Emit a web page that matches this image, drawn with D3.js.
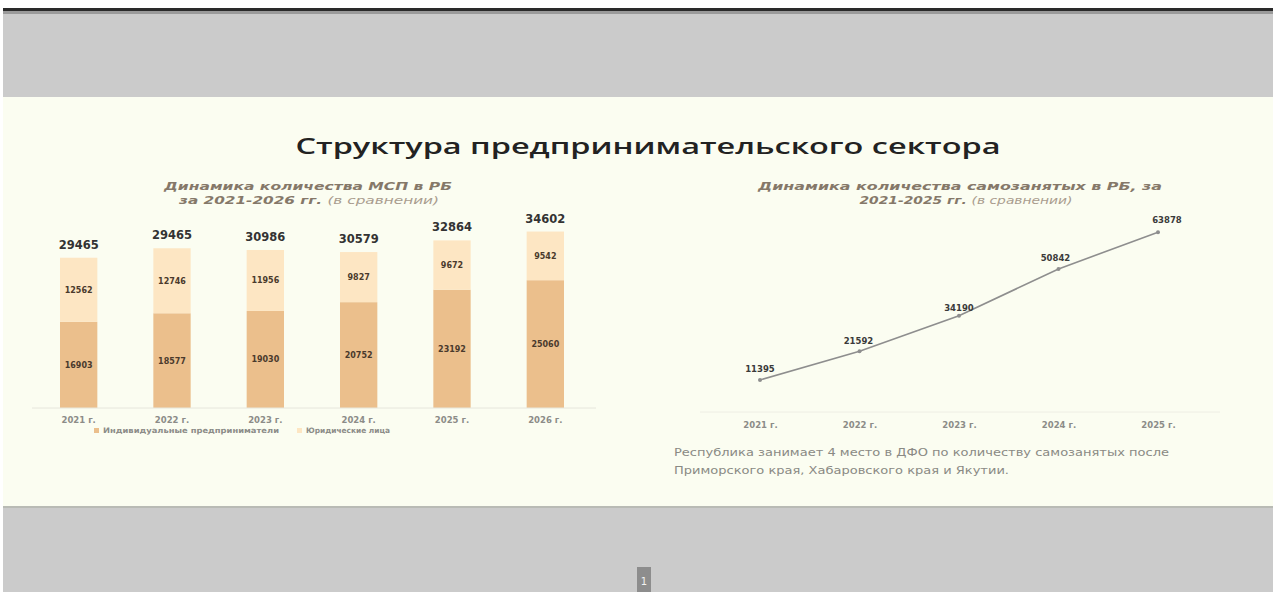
<!DOCTYPE html>
<html>
<head>
<meta charset="utf-8">
<script src="https://cdn.jsdelivr.net/npm/d3@7"></script>
<style>
  body { margin: 0; background: #cbcbcb; }
  svg { display: block; }
</style>
</head>
<body>
<div id="chart"></div>
<script>
// data
var barYears = ['2021 г.', '2022 г.', '2023 г.', '2024 г.', '2025 г.', '2026 г.'];
var ipValues = [16903, 18577, 19030, 20752, 23192, 25060];   // Индивидуальные предприниматели
var ulValues = [12562, 12746, 11956, 9827, 9672, 9542];      // Юридические лица
var totalLabels = [29465, 29465, 30986, 30579, 32864, 34602];

var lineYears = ['2021 г.', '2022 г.', '2023 г.', '2024 г.', '2025 г.'];
var selfEmployed = [11395, 21592, 34190, 50842, 63878];

var W = 1273, H = 592;
var IP_COLOR = '#ebbf8c', UL_COLOR = '#fde6c3';

var svg = d3.select('#chart').append('svg')
    .attr('width', W).attr('height', H);

// slide frame
svg.append('rect').attr('x', 0).attr('y', 0).attr('width', W).attr('height', H).attr('fill', '#cbcbcb');
svg.append('rect').attr('x', 0).attr('y', 0).attr('width', W).attr('height', 9).attr('fill', '#ffffff');
svg.append('rect').attr('x', 0).attr('y', 0).attr('width', 3).attr('height', H).attr('fill', '#ffffff');
svg.append('rect').attr('x', 3).attr('y', 8).attr('width', W).attr('height', 3).attr('fill', '#2a2a2a');
svg.append('rect').attr('x', 3).attr('y', 11).attr('width', W).attr('height', 3).attr('fill', '#9a9a9a');
svg.append('rect').attr('x', 3).attr('y', 97).attr('width', W).attr('height', 410).attr('fill', '#fbfdf1');
svg.append('rect').attr('x', 3).attr('y', 506).attr('width', W).attr('height', 2).attr('fill', '#b9bbb5');
svg.append('rect').attr('x', 637).attr('y', 567).attr('width', 14).attr('height', 25).attr('fill', '#8d8d8d');
svg.append('text').attr('x', 644).attr('y', 585).attr('text-anchor', 'middle')
    .attr('font-family', 'DejaVu Sans').attr('font-size', 10).attr('fill', '#f2f2f2').text('1');

// title (stretched to the wide geometric face of the slide)
svg.append('text')
    .attr('x', 648).attr('y', 154)
    .attr('text-anchor', 'middle')
    .attr('font-family', 'Open Sans, DejaVu Sans')
    .attr('font-weight', 600)
    .attr('font-size', 22)
    .attr('textLength', 705).attr('lengthAdjust', 'spacingAndGlyphs')
    .attr('fill', '#222')
    .text('Структура предпринимательского сектора');

function subtitle(x, y, len, bold, light) {
  var t = svg.append('text').attr('x', x).attr('y', y).attr('text-anchor', 'middle')
      .attr('font-family', 'DejaVu Sans').attr('font-style', 'italic').attr('font-size', 10.5)
      .attr('textLength', len).attr('lengthAdjust', 'spacingAndGlyphs')
      .attr('fill', '#857869');
  t.append('tspan').attr('font-weight', 'bold').text(bold);
  if (light) t.append('tspan').attr('fill', '#a99c8e').text(light);
}
subtitle(308, 190, 288, 'Динамика количества МСП в РБ');
subtitle(309, 204, 260, 'за 2021-2026 гг. ', '(в сравнении)');
subtitle(960, 190, 404, 'Динамика количества самозанятых в РБ, за');
subtitle(966, 204, 213, '2021-2025 гг. ', '(в сравнении)');

// ---------- stacked bars ----------
var barData = barYears.map(function(y, i) {
  return { year: y, ip: ipValues[i], ul: ulValues[i], total: totalLabels[i] };
});
var stack = d3.stack().keys(['ip', 'ul'])(barData);

var xb = d3.scaleBand().domain(barYears).range([32, 592]).paddingInner(0.6).paddingOuter(0.3);
var yb = d3.scaleLinear().domain([0, 40000]).range([408, 204]);

var colors = { ip: IP_COLOR, ul: UL_COLOR };
var layers = svg.selectAll('.layer').data(stack).enter().append('g')
    .attr('class', 'layer').attr('fill', function(d) { return colors[d.key]; });

layers.selectAll('rect').data(function(d) { return d; }).enter().append('rect')
    .attr('x', function(d) { return xb(d.data.year); })
    .attr('width', xb.bandwidth())
    .attr('y', function(d) { return yb(d[1]); })
    .attr('height', function(d) { return yb(d[0]) - yb(d[1]); });

layers.selectAll('text').data(function(d) { return d; }).enter().append('text')
    .attr('x', function(d) { return xb(d.data.year) + xb.bandwidth() / 2; })
    .attr('y', function(d) { return (yb(d[0]) + yb(d[1])) / 2 + 3; })
    .attr('text-anchor', 'middle')
    .attr('font-family', 'DejaVu Sans').attr('font-weight', 'bold').attr('font-size', 8)
    .attr('fill', '#4a3a2c')
    .text(function(d) { return d[1] - d[0]; });

svg.selectAll('.total').data(barData).enter().append('text')
    .attr('class', 'total')
    .attr('x', function(d) { return xb(d.year) + xb.bandwidth() / 2; })
    .attr('y', function(d) { return yb(d.ip + d.ul) - 9; })
    .attr('text-anchor', 'middle')
    .attr('font-family', 'DejaVu Sans').attr('font-weight', 'bold').attr('font-size', 11.5)
    .attr('fill', '#333')
    .text(function(d) { return d.total; });

var xbAxis = svg.append('g').attr('transform', 'translate(0,408)')
    .call(d3.axisBottom(xb).tickSize(0).tickPadding(9));
xbAxis.select('.domain').attr('stroke', '#e6e6dc').attr('d', 'M32,0H596');
xbAxis.selectAll('text').attr('font-family', 'DejaVu Sans').attr('font-weight', 'bold')
    .attr('font-size', 8.5).attr('fill', '#8c8c88');

// legend
var legend = [
  { label: 'Индивидуальные предприниматели', color: IP_COLOR, x: 94, len: 176 },
  { label: 'Юридические лица', color: UL_COLOR, x: 297, len: 84 }
];
var lg = svg.selectAll('.lg').data(legend).enter().append('g')
    .attr('transform', function(d) { return 'translate(' + d.x + ',433)'; });
lg.append('rect').attr('x', 0).attr('y', -5).attr('width', 5).attr('height', 5)
    .attr('fill', function(d) { return d.color; });
lg.append('text').attr('x', 9).attr('y', 0)
    .attr('font-family', 'DejaVu Sans').attr('font-weight', 'bold').attr('font-size', 7.5)
    .attr('textLength', function(d) { return d.len; }).attr('lengthAdjust', 'spacingAndGlyphs')
    .attr('fill', '#8c8c88').text(function(d) { return d.label; });

// ---------- self-employed line ----------
var xl = d3.scalePoint().domain(lineYears).range([760, 1158]);
var yl = d3.scaleLinear().domain([0, 70000]).range([412, 215]);

var xlAxis = svg.append('g').attr('transform', 'translate(0,412)')
    .call(d3.axisBottom(xl).tickSize(0).tickPadding(10));
xlAxis.select('.domain').attr('stroke', '#eeeee4').attr('d', 'M700,0H1220');
xlAxis.selectAll('text').attr('font-family', 'DejaVu Sans').attr('font-weight', 'bold')
    .attr('font-size', 8.5).attr('fill', '#8c8c88');

var lineData = lineYears.map(function(y, i) { return { year: y, v: selfEmployed[i] }; });
svg.append('path').datum(lineData)
    .attr('fill', 'none').attr('stroke', '#8e8e8e').attr('stroke-width', 1.6)
    .attr('d', d3.line().x(function(d) { return xl(d.year); }).y(function(d) { return yl(d.v); }));
svg.selectAll('.pt').data(lineData).enter().append('circle')
    .attr('cx', function(d) { return xl(d.year); }).attr('cy', function(d) { return yl(d.v); })
    .attr('r', 2).attr('fill', '#8e8e8e');

var lblOffset = [[0, -8], [-1, -7], [0, -5], [-3, -8], [9, -9]];
svg.selectAll('.pl').data(lineData).enter().append('text')
    .attr('x', function(d, i) { return xl(d.year) + lblOffset[i][0]; })
    .attr('y', function(d, i) { return yl(d.v) + lblOffset[i][1]; })
    .attr('text-anchor', 'middle')
    .attr('font-family', 'DejaVu Sans').attr('font-weight', 'bold').attr('font-size', 8.5)
    .attr('fill', '#3a3a3a').text(function(d) { return d.v; });

// note under the line chart
var note = [{ t: 'Республика занимает 4 место в ДФО по количеству самозанятых после', len: 495 },
            { t: 'Приморского края, Хабаровского края и Якутии.', len: 335 }];
svg.selectAll('.note').data(note).enter().append('text')
    .attr('x', 674).attr('y', function(d, i) { return 456 + i * 18; })
    .attr('font-family', 'DejaVu Sans').attr('font-size', 10.5).attr('fill', '#8a8a84')
    .attr('textLength', function(d) { return d.len; }).attr('lengthAdjust', 'spacingAndGlyphs')
    .text(function(d) { return d.t; });
</script>
</body>
</html>
